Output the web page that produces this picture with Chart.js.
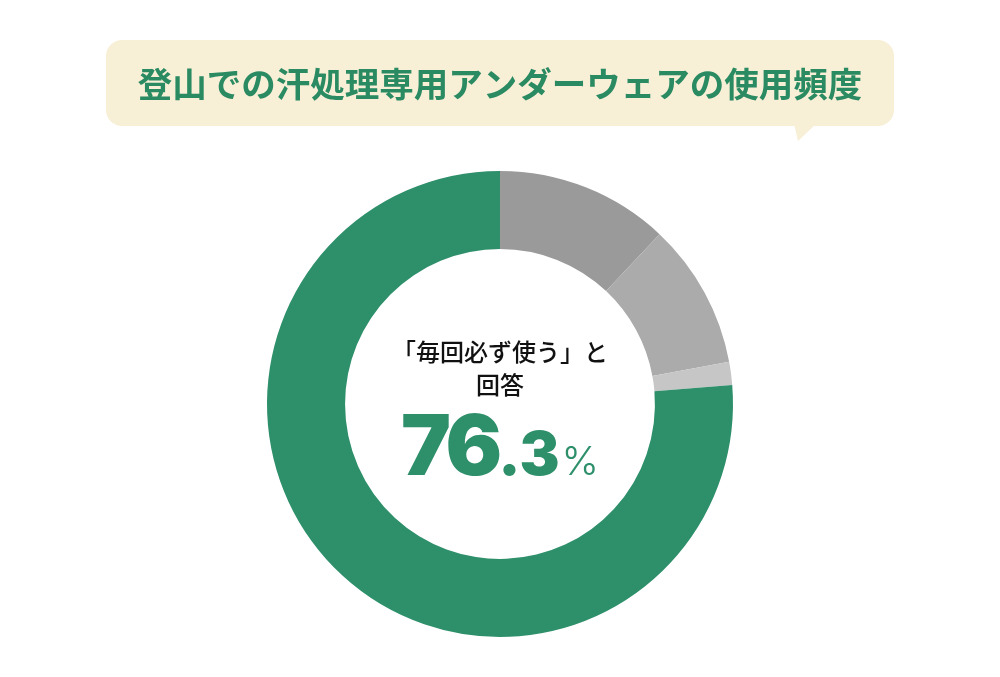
<!DOCTYPE html>
<html>
<head>
<meta charset="utf-8">
<script src="https://cdn.jsdelivr.net/npm/chart.js@4"></script>
<style>
  html, body { margin: 0; padding: 0; background: #fff; }
  #wrap { width: 1000px; height: 677px; position: relative; }
</style>
</head>
<body>
<div id="wrap"><canvas id="usageChart" width="1000" height="677"></canvas></div>
<script>
// data
const title = '登山での汗処理専用アンダーウェアの使用頻度';
const categories = ['その他A', 'その他B', 'その他C', '毎回必ず使う'];
const shares = [12.0, 10.1, 1.6, 76.3];
const sliceColors = ['#9a9a9a', '#ababab', '#c6c6c6', '#2e8f6b'];
const centerLines = ['「毎回必ず使う」と', '回答'];
const valueInt = '76';
const valueDec = '.3';

const jp = '"Noto Sans CJK JP", "Noto Sans", sans-serif';
const num = 'Inter, "Noto Sans", sans-serif';

// speech bubble title + center label
const decorPlugin = {
    id: 'decor',
    beforeDraw(chart) {
        const ctx = chart.ctx;
        ctx.save();
        ctx.fillStyle = '#f8efd7';
        ctx.beginPath();
        ctx.roundRect(106, 40, 788, 86, 16);
        ctx.fill();
        // tail
        ctx.beginPath();
        ctx.moveTo(794, 124);
        ctx.lineTo(816, 124);
        ctx.lineTo(798, 141);
        ctx.closePath();
        ctx.fill();
        ctx.fillStyle = '#2a8a62';
        ctx.font = 'bold 34.5px ' + jp;
        ctx.textAlign = 'center';
        ctx.textBaseline = 'middle';
        ctx.fillText(title, 500, 84);
        ctx.restore();
    },
    afterDraw(chart) {
        const ctx = chart.ctx;
        const meta = chart.getDatasetMeta(0).data[0];
        const cx = meta.x, cy = meta.y;
        ctx.save();
        ctx.textAlign = 'center';
        ctx.textBaseline = 'middle';
        ctx.fillStyle = '#111';
        ctx.font = '500 24px ' + jp;
        ctx.fillText(centerLines[0], cx, cy - 52);
        ctx.fillText(centerLines[1], cx, cy - 19);
        // big number: "76" large, ".3" smaller, "%" light
        ctx.textBaseline = 'alphabetic';
        ctx.textAlign = 'left';
        ctx.fillStyle = '#2e8f6b';
        const fInt = '900 84px ' + num;
        const fDec = '900 60px ' + num;
        const fPct = '300 40px ' + num;
        ctx.letterSpacing = '-4px';
        ctx.font = fInt;
        const wInt = ctx.measureText(valueInt).width;
        ctx.letterSpacing = '0px';
        ctx.font = fDec;
        const wDec = ctx.measureText(valueDec).width;
        ctx.font = fPct;
        const wPct = ctx.measureText('%').width;
        const gap = 2;
        let x = cx - (wInt + wDec + wPct + gap) / 2;
        const base = cy + 71;
        ctx.letterSpacing = '-4px';
        ctx.font = fInt;
        ctx.fillText(valueInt, x, base);
        x += wInt;
        ctx.letterSpacing = '0px';
        ctx.font = fDec;
        ctx.fillText(valueDec, x, base);
        x += wDec + gap;
        ctx.font = fPct;
        ctx.fillText('%', x, base);
        ctx.restore();
    }
};

new Chart(document.getElementById('usageChart'), {
    type: 'doughnut',
    data: {
        labels: categories,
        datasets: [{
            data: shares,
            backgroundColor: sliceColors,
            borderWidth: 0
        }]
    },
    options: {
        responsive: false,
        animation: false,
        cutout: '66.5%',
        layout: { padding: { top: 171, bottom: 40 } },
        plugins: {
            legend: { display: false },
            tooltip: { enabled: false }
        }
    },
    plugins: [decorPlugin]
});
</script>
</body>
</html>
